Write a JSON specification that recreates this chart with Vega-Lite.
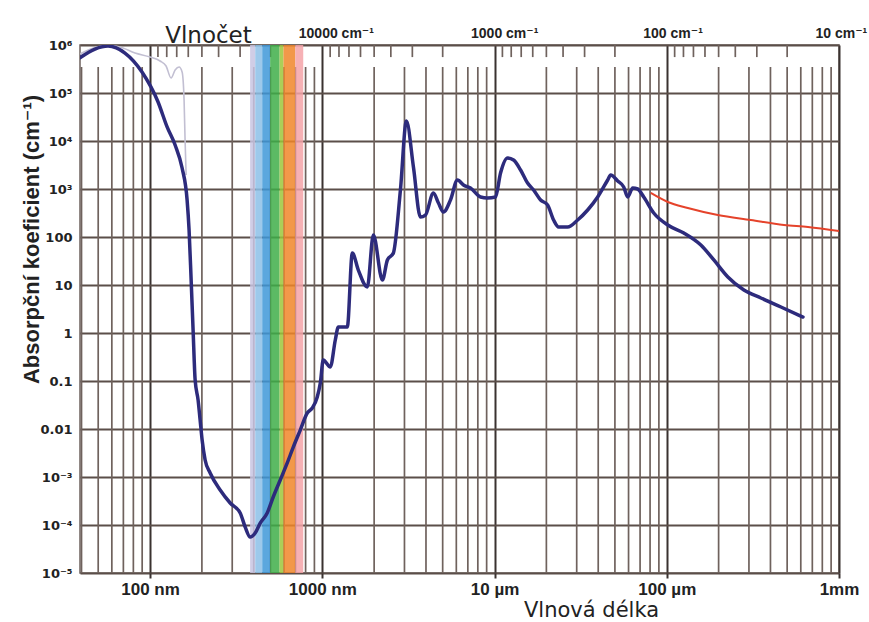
{
  "$schema": "https://vega.github.io/schema/vega-lite/v6.json",
  "width": 759,
  "height": 528,
  "autosize": {"type": "none"},
  "padding": {"left": 80, "top": 45, "right": 30, "bottom": 49},
  "background": "white",
  "config": {
    "view": {"stroke": "#6e625d", "strokeWidth": 1.5},
    "font": "Liberation Sans, DejaVu Sans, sans-serif"
  },
  "datasets": {
    "main": [
      {"wl": 39.2, "a": 544000}, {"wl": 47.9, "a": 825000}, {"wl": 57.0, "a": 950000}, {"wl": 71.5, "a": 680000},
      {"wl": 89.8, "a": 274000}, {"wl": 111.3, "a": 65000}, {"wl": 125.6, "a": 19600}, {"wl": 139.8, "a": 8250},
      {"wl": 153.5, "a": 2740}, {"wl": 164.1, "a": 590}, {"wl": 168.5, "a": 140}, {"wl": 173.2, "a": 12.7},
      {"wl": 177.8, "a": 1.15}, {"wl": 182.7, "a": 0.105}, {"wl": 190.1, "a": 0.04}, {"wl": 195.3, "a": 0.0154},
      {"wl": 200.6, "a": 0.0059}, {"wl": 208.8, "a": 0.00226}, {"wl": 223.3, "a": 0.00121}, {"wl": 255.3, "a": 0.000536},
      {"wl": 291.9, "a": 0.000287}, {"wl": 333.7, "a": 0.000178}, {"wl": 356.7, "a": 0.000091}, {"wl": 381.4, "a": 0.000056},
      {"wl": 407.7, "a": 0.000068}, {"wl": 436.1, "a": 0.00011}, {"wl": 478.9, "a": 0.000178}, {"wl": 518.9, "a": 0.000383},
      {"wl": 570, "a": 0.000866}, {"wl": 626, "a": 0.00196}, {"wl": 678.5, "a": 0.0042}, {"wl": 745, "a": 0.0095},
      {"wl": 818, "a": 0.0215}, {"wl": 875, "a": 0.0274}, {"wl": 935, "a": 0.0464}, {"wl": 974, "a": 0.0908},
      {"wl": 1013, "a": 0.274}, {"wl": 1113, "a": 0.196}, {"wl": 1190, "a": 0.715}, {"wl": 1239, "a": 1.33},
      {"wl": 1397, "a": 1.33}, {"wl": 1494, "a": 46.4}, {"wl": 1619, "a": 20.5}, {"wl": 1826, "a": 9.09},
      {"wl": 1979, "a": 110}, {"wl": 2233, "a": 12.7}, {"wl": 2388, "a": 33.2}, {"wl": 2587, "a": 46.4},
      {"wl": 2842, "a": 953}, {"wl": 3079, "a": 26100}, {"wl": 3382, "a": 2870}, {"wl": 3714, "a": 261},
      {"wl": 3971, "a": 287}, {"wl": 4418, "a": 826}, {"wl": 4725, "a": 511}, {"wl": 5052, "a": 332},
      {"wl": 5548, "a": 590}, {"wl": 6094, "a": 1540}, {"wl": 6603, "a": 1212}, {"wl": 7251, "a": 1049},
      {"wl": 8290, "a": 681}, {"wl": 9107, "a": 649}, {"wl": 10135, "a": 681}, {"wl": 10837, "a": 2154},
      {"wl": 11904, "a": 4424}, {"wl": 12897, "a": 4019}, {"wl": 14165, "a": 2488}, {"wl": 15557, "a": 1334},
      {"wl": 16856, "a": 953}, {"wl": 18513, "a": 590}, {"wl": 20331, "a": 464}, {"wl": 22029, "a": 226},
      {"wl": 23560, "a": 162}, {"wl": 26570, "a": 162}, {"wl": 30380, "a": 226}, {"wl": 34740, "a": 365},
      {"wl": 39710, "a": 681}, {"wl": 45400, "a": 1540}, {"wl": 47260, "a": 1957}, {"wl": 51900, "a": 1468},
      {"wl": 56230, "a": 1101}, {"wl": 59330, "a": 681}, {"wl": 63430, "a": 1049}, {"wl": 67830, "a": 1000},
      {"wl": 73500, "a": 681}, {"wl": 84030, "a": 316}, {"wl": 101350, "a": 178}, {"wl": 125600, "a": 121},
      {"wl": 157700, "a": 68}, {"wl": 187600, "a": 33.2}, {"wl": 226300, "a": 14.7}, {"wl": 280400, "a": 7.87},
      {"wl": 352000, "a": 5.36}, {"wl": 460200, "a": 3.48}, {"wl": 617600, "a": 2.15}
    ],
    "gray": [
      {"wl": 39.2, "a": 650000}, {"wl": 47.9, "a": 887000}, {"wl": 57.0, "a": 976000}, {"wl": 66.9, "a": 908000},
      {"wl": 81.8, "a": 681000}, {"wl": 100, "a": 562000}, {"wl": 114.3, "a": 464000}, {"wl": 123.9, "a": 365000},
      {"wl": 132.5, "a": 205000}, {"wl": 139.8, "a": 301000}, {"wl": 147.4, "a": 348000}, {"wl": 153.5, "a": 274000},
      {"wl": 157.6, "a": 71400}, {"wl": 159.7, "a": 10500}, {"wl": 162, "a": 1958}
    ],
    "red": [
      {"wl": 80760, "a": 826}, {"wl": 101350, "a": 536}, {"wl": 132500, "a": 402}, {"wl": 197900, "a": 287},
      {"wl": 307800, "a": 226}, {"wl": 478800, "a": 178}, {"wl": 660300, "a": 162}, {"wl": 1000000, "a": 133}
    ],
    "minor": [
      {"wl": 40}, {"wl": 50}, {"wl": 60}, {"wl": 70}, {"wl": 80}, {"wl": 90},
      {"wl": 200}, {"wl": 300}, {"wl": 400}, {"wl": 500}, {"wl": 600}, {"wl": 700}, {"wl": 800}, {"wl": 900},
      {"wl": 2000}, {"wl": 3000}, {"wl": 4000}, {"wl": 5000}, {"wl": 6000}, {"wl": 7000}, {"wl": 8000}, {"wl": 9000},
      {"wl": 20000}, {"wl": 30000}, {"wl": 40000}, {"wl": 50000}, {"wl": 60000}, {"wl": 70000}, {"wl": 80000}, {"wl": 90000},
      {"wl": 200000}, {"wl": 300000}, {"wl": 400000}, {"wl": 500000}, {"wl": 600000}, {"wl": 700000}, {"wl": 800000}, {"wl": 900000}
    ],
    "wavenumberTicks": [
      {"wl": 111.11}, {"wl": 125}, {"wl": 142.86}, {"wl": 166.67}, {"wl": 200}, {"wl": 250}, {"wl": 333.33}, {"wl": 500},
      {"wl": 1111.1}, {"wl": 1250}, {"wl": 1428.6}, {"wl": 1666.7}, {"wl": 2000}, {"wl": 2500}, {"wl": 3333.3}, {"wl": 5000},
      {"wl": 11111}, {"wl": 12500}, {"wl": 14286}, {"wl": 16667}, {"wl": 20000}, {"wl": 25000}, {"wl": 33333}, {"wl": 50000},
      {"wl": 111111}, {"wl": 125000}, {"wl": 142857}, {"wl": 166667}, {"wl": 200000}, {"wl": 250000}, {"wl": 333333}, {"wl": 500000}
    ],
    "bands": [
      {"band": "violet", "from": 381, "to": 408},
      {"band": "light blue", "from": 408, "to": 448},
      {"band": "blue", "from": 448, "to": 498},
      {"band": "green", "from": 498, "to": 565},
      {"band": "yellow-green", "from": 565, "to": 595},
      {"band": "orange", "from": 595, "to": 697},
      {"band": "red", "from": 697, "to": 775}
    ]
  },
  "resolve": {"axis": {"x": "independent", "y": "independent"}},
  "layer": [
    {
      "data": {"name": "minor"},
      "mark": {"type": "rule", "color": "#6f625d", "strokeWidth": 1.7},
      "encoding": {
        "x": {
          "field": "wl", "type": "quantitative",
          "scale": {"type": "log", "domain": [39.2, 1000000], "nice": false},
          "axis": {
            "orient": "bottom",
            "values": [100, 1000, 10000, 100000, 1000000],
            "labelExpr": "datum.value < 500 ? '100 nm' : datum.value < 5000 ? '1000 nm' : datum.value < 50000 ? '10 µm' : datum.value < 500000 ? '100 µm' : '1mm'",
            "labelFontSize": 17, "labelFontWeight": "bold", "labelColor": "#222222",
            "labelFlush": false, "labelOverlap": false, "labelPadding": 3,
            "domain": false,
            "ticks": true, "tickSize": 5, "tickColor": "#3a3230", "tickWidth": 2,
            "grid": true, "gridColor": "#3a3230", "gridWidth": 2,
            "title": "Vlnová délka", "titleFont": "DejaVu Sans", "titleFontSize": 21, "titleFontWeight": "normal", "titleColor": "#222222",
            "titleX": 511, "titleY": 43, "titleAlign": "center", "titleBaseline": "alphabetic"
          }
        },
        "y": {
          "datum": 348000, "type": "quantitative",
          "scale": {"type": "log", "domain": [0.00001, 1000000], "nice": false},
          "axis": {
            "values": [0.00001, 0.0001, 0.001, 0.01, 0.1, 1, 10, 100, 1000, 10000, 100000, 1000000],
            "labelExpr": "datum.value > 500000 ? '10⁶' : datum.value > 50000 ? '10⁵' : datum.value > 5000 ? '10⁴' : datum.value > 500 ? '10³' : datum.value > 50 ? '100' : datum.value > 5 ? '10' : datum.value > 0.5 ? '1' : datum.value > 0.05 ? '0.1' : datum.value > 0.005 ? '0.01' : datum.value > 0.0005 ? '10⁻³' : datum.value > 0.00005 ? '10⁻⁴' : '10⁻⁵'",
            "labelFont": "DejaVu Sans", "labelFontSize": 13, "labelFontWeight": "bold", "labelColor": "#222222",
            "labelOverlap": false, "labelFlush": false, "labelPadding": 8,
            "domain": false, "ticks": false,
            "grid": true, "gridColor": "#5b4e49", "gridWidth": 2,
            "title": "Absorpční koeficient (cm⁻¹)", "titleFontSize": 22, "titleFontWeight": "bold", "titleColor": "#222222",
            "titleX": -49, "titleY": 194, "titleAngle": -90, "titleAlign": "center", "titleBaseline": "middle"
          }
        },
        "y2": {"datum": 0.00001}
      }
    },
    {
      "data": {"name": "wavenumberTicks"},
      "mark": {"type": "rule", "color": "#6f625d", "strokeWidth": 1.7},
      "encoding": {
        "x": {
          "field": "wl", "type": "quantitative",
          "scale": {"type": "log", "domain": [39.2, 1000000], "nice": false},
          "axis": {
            "orient": "top",
            "values": [1000, 10000, 100000, 1000000],
            "labelExpr": "datum.value < 5000 ? '10000 cm⁻¹' : datum.value < 50000 ? '1000 cm⁻¹' : datum.value < 500000 ? '100 cm⁻¹' : '10 cm⁻¹'",
            "labelFontSize": 14, "labelFontWeight": "bold", "labelColor": "#222222",
            "labelFlush": false, "labelOverlap": false, "labelPadding": 5,
            "labelAlign": "left", "labelOffset": -24,
            "domain": false, "ticks": false, "grid": false,
            "title": "Vlnočet", "titleFont": "DejaVu Sans", "titleFontSize": 23, "titleFontWeight": "normal", "titleColor": "#222222",
            "titleX": 128, "titleY": -3, "titleAlign": "center", "titleBaseline": "alphabetic"
          }
        },
        "y": {"datum": 1000000, "type": "quantitative", "scale": {"type": "log", "domain": [0.00001, 1000000], "nice": false}, "axis": null},
        "y2": {"datum": 560000}
      }
    },
    {
      "data": {"name": "bands"},
      "mark": {"type": "rect", "opacity": 0.85},
      "encoding": {
        "x": {"field": "from", "type": "quantitative", "scale": {"type": "log", "domain": [39.2, 1000000], "nice": false}, "axis": null},
        "x2": {"field": "to"},
        "color": {
          "field": "band", "type": "nominal", "legend": null,
          "scale": {
            "domain": ["violet", "light blue", "blue", "green", "yellow-green", "orange", "red"],
            "range": ["#c8c4e2", "#8cc0e8", "#3e98d8", "#3fae49", "#9cc63b", "#f0862a", "#f4a3a8"]
          }
        }
      }
    },
    {
      "data": {"name": "gray"},
      "mark": {"type": "line", "color": "#c2bfd2", "strokeWidth": 1.6, "interpolate": "monotone", "clip": true},
      "encoding": {
        "x": {"field": "wl", "type": "quantitative", "scale": {"type": "log", "domain": [39.2, 1000000], "nice": false}, "axis": null},
        "y": {"field": "a", "type": "quantitative", "scale": {"type": "log", "domain": [0.00001, 1000000], "nice": false}, "axis": null}
      }
    },
    {
      "data": {"name": "red"},
      "mark": {"type": "line", "color": "#e5432b", "strokeWidth": 2, "interpolate": "monotone", "clip": true},
      "encoding": {
        "x": {"field": "wl", "type": "quantitative", "scale": {"type": "log", "domain": [39.2, 1000000], "nice": false}, "axis": null},
        "y": {"field": "a", "type": "quantitative", "scale": {"type": "log", "domain": [0.00001, 1000000], "nice": false}, "axis": null}
      }
    },
    {
      "data": {"name": "main"},
      "mark": {"type": "line", "color": "#2d2b7c", "strokeWidth": 3.5, "interpolate": "monotone", "strokeCap": "round", "strokeJoin": "round", "clip": true},
      "encoding": {
        "x": {"field": "wl", "type": "quantitative", "scale": {"type": "log", "domain": [39.2, 1000000], "nice": false}, "axis": null},
        "y": {"field": "a", "type": "quantitative", "scale": {"type": "log", "domain": [0.00001, 1000000], "nice": false}, "axis": null}
      }
    }
  ]
}
